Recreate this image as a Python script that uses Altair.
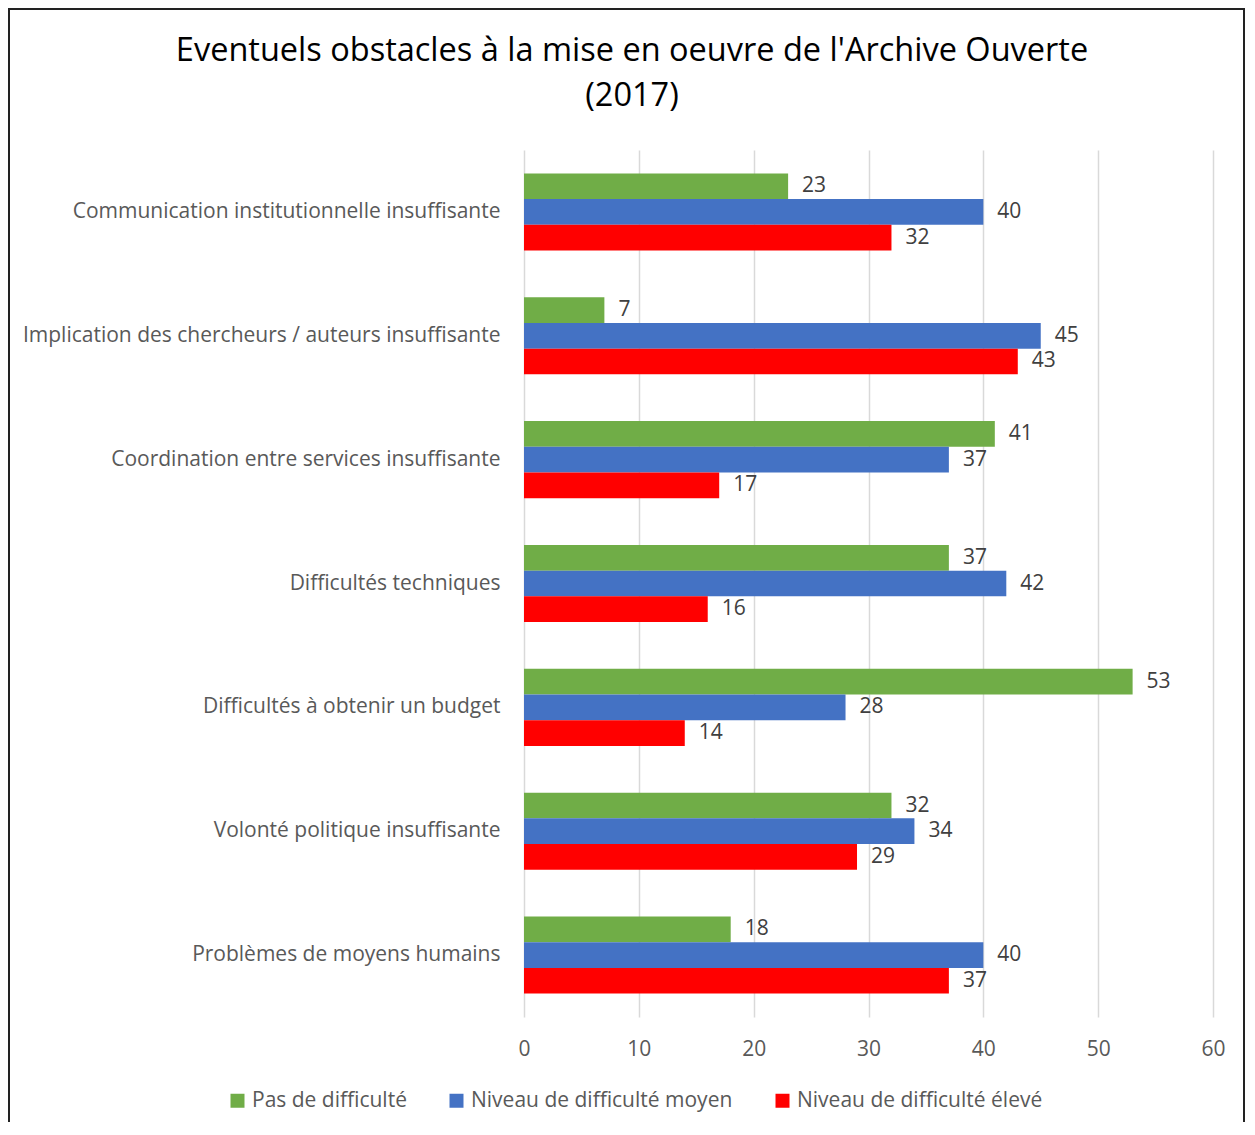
import altair as alt
import pandas as pd

categories = [
    "Communication institutionnelle insuffisante",
    "Implication des chercheurs / auteurs insuffisante",
    "Coordination entre services insuffisante",
    "Difficultés techniques",
    "Difficultés à obtenir un budget",
    "Volonté politique insuffisante",
    "Problèmes de moyens humains",
]
series = ["Pas de difficulté", "Niveau de difficulté moyen", "Niveau de difficulté élevé"]
colors = ["#70AD47", "#4472C4", "#FF0000"]
pas = [23, 7, 41, 37, 53, 32, 18]
moyen = [40, 45, 37, 42, 28, 34, 40]
eleve = [32, 43, 17, 16, 14, 29, 37]
title_lines = ["Eventuels obstacles à la mise en oeuvre de l'Archive Ouverte", "(2017)"]

rows = []
for i, c in enumerate(categories):
    for s, vals in zip(series, [pas, moyen, eleve]):
        rows.append({"cat": c, "serie": s, "val": vals[i]})
df = pd.DataFrame(rows)

FONT = "Open Sans"
FS = 21

y_enc = alt.Y("cat:N", sort=categories, title=None,
              scale=alt.Scale(paddingInner=0.378, paddingOuter=0.189),
              axis=alt.Axis(labelFontSize=FS, labelColor="#595959", labelFont=FONT,
                            labelPadding=24, ticks=False, domain=False, labelLimit=600))
x_enc = alt.X("val:Q", title=None,
              scale=alt.Scale(domain=[0, 60]),
              axis=alt.Axis(values=[0, 10, 20, 30, 40, 50, 60], labelFontSize=FS,
                            labelColor="#595959", labelFont=FONT, labelPadding=21,
                            labelFlush=False, ticks=False, domain=False,
                            gridColor="#D9D9D9", gridWidth=1.5))
yoff = alt.YOffset("serie:N", sort=series)

base = alt.Chart(df)
bars = base.mark_bar().encode(
    x=x_enc, y=y_enc, yOffset=yoff,
    color=alt.Color("serie:N", sort=series, title=None,
                    scale=alt.Scale(domain=series, range=colors),
                    legend=alt.Legend(orient="none", legendX=-297, legendY=940,
                                      direction="horizontal", symbolType="square",
                                      symbolSize=196, symbolStrokeWidth=0,
                                      labelFontSize=FS, labelColor="#595959",
                                      labelFont=FONT, columnPadding=39, labelOffset=4,
                                      labelLimit=400)),
)
labels = base.mark_text(align="left", baseline="middle", dx=14, fontSize=FS,
                        color="#404040", font=FONT).encode(
    x="val:Q", y=alt.Y("cat:N", sort=categories), yOffset=yoff, text="val:Q")

one = pd.DataFrame({"a": [0]})
title1 = alt.Chart(one).mark_text(fontSize=32.5, font=FONT, color="#000000",
                                  align="center", baseline="middle").encode(
    x=alt.value(108), y=alt.value(-99), text=alt.value(title_lines[0]))
title2 = alt.Chart(one).mark_text(fontSize=32.5, font=FONT, color="#000000",
                                  align="center", baseline="middle").encode(
    x=alt.value(108), y=alt.value(-54), text=alt.value(title_lines[1]))

frame = alt.Chart(one).mark_rect(
    fill="transparent", stroke="#222222", strokeWidth=2).encode(
    x=alt.value(-515), x2=alt.value(720), y=alt.value(-141), y2=alt.value(1010))

chart = alt.layer(bars, labels, title1, title2, frame).properties(
    width=689, height=867,
    autosize=alt.AutoSizeParams(type="none"),
    padding={"left": 516, "top": 142, "right": 32, "bottom": 105},
).configure_view(stroke=None).configure_axisY(grid=False)

chart.save("out.html", embed_options={"renderer": "svg", "actions": False})
